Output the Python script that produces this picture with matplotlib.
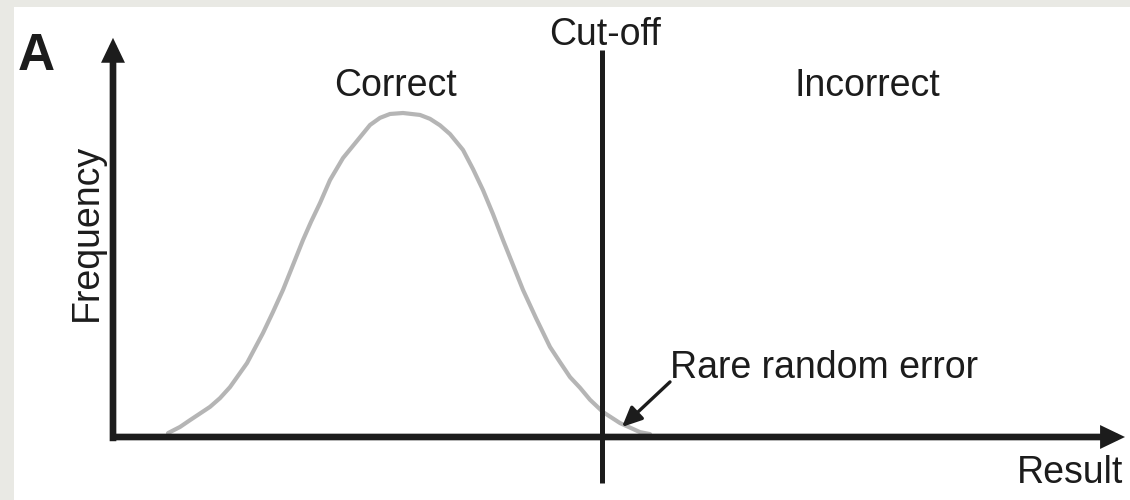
import matplotlib
matplotlib.use("Agg")
import matplotlib.pyplot as plt
from matplotlib.patches import Rectangle

plt.rcParams['font.family'] = ['Liberation Sans', 'DejaVu Sans']

# distribution of results (arbitrary units)
result = [0.55, 0.67, 0.77, 0.97, 1.07, 1.17, 1.34, 1.50, 1.60, 1.70, 1.80, 1.90, 1.98, 2.07,
          2.17, 2.30, 2.43, 2.57, 2.67, 2.77, 2.90, 3.07, 3.17, 3.27, 3.37, 3.50, 3.60, 3.70,
          3.80, 3.90, 4.00, 4.10, 4.23, 4.37, 4.47, 4.57, 4.67, 4.77, 4.90, 5.07, 5.27, 5.37]
frequency = [0.012, 0.031, 0.052, 0.093, 0.120, 0.154, 0.228, 0.321, 0.386, 0.454, 0.531, 0.608, 0.664, 0.722,
             0.793, 0.861, 0.910, 0.963, 0.985, 0.997, 1.0, 0.994, 0.982, 0.962, 0.935, 0.886, 0.827, 0.762,
             0.688, 0.608, 0.531, 0.454, 0.367, 0.278, 0.231, 0.185, 0.152, 0.115, 0.077, 0.043, 0.015, 0.009]
cutoff = 4.89
x_max = 10.16
y_max = 1.247
error_tip = (5.09, 0.031)
error_tail = (5.57, 0.170)

ink = '#1c1c1c'

fig = plt.figure(figsize=(11.3, 5), dpi=100, facecolor='#e9e9e4')
fig.patches.append(Rectangle((14 / 1130, 0), 1, 1 - 7 / 500, transform=fig.transFigure,
                             facecolor='white', edgecolor='none', zorder=-10))
ax = fig.add_axes([0, 0, 1, 1])
ax.set_facecolor('none')
ax.axis('off')
ax.set_xlim(-1.13, 10.17)
ax.set_ylim(-63 / 324, 437 / 324)

# curve
ax.plot(result, frequency, color='#b5b5b5', lw=3.0, solid_joinstyle='round',
        solid_capstyle='round', zorder=2)

# axes with arrows
arrow_kw = dict(arrowstyle='-|>,head_length=10,head_width=4.8', color=ink, lw=4.8,
                shrinkA=0, shrinkB=0, mutation_scale=1, joinstyle='miter', capstyle='butt')
ax.annotate('', xy=(0, y_max - 0.015), xytext=(0, -0.013), arrowprops=arrow_kw, zorder=3)
ax.annotate('', xy=(x_max - 0.04, 0), xytext=(-0.03, 0), arrowprops=arrow_kw, zorder=3)

# cut-off line
ax.plot([cutoff, cutoff], [-0.142, 1.194], color=ink, lw=3.6, solid_capstyle='butt', zorder=3)

# rare random error arrow
ax.annotate('', xy=error_tip, xytext=error_tail,
            arrowprops=dict(arrowstyle='-|>,head_length=12,head_width=5.5', color=ink, lw=2.4,
                            shrinkA=0, shrinkB=0, mutation_scale=1), zorder=4)

fs = 27
ax.text(-0.95, 1.133, 'A', fontsize=37, fontweight='bold', color=ink, ha='left', va='baseline')
ax.text(cutoff + 0.03, 1.210, 'Cut-off', fontsize=fs, color=ink, ha='center', va='baseline')
ax.text(2.82, 1.052, 'Correct', fontsize=fs, color=ink, ha='center', va='baseline')
ax.text(7.54, 1.052, 'Incorrect', fontsize=fs, color=ink, ha='center', va='baseline')
ax.text(5.57, 0.182, 'Rare random error', fontsize=fs, color=ink, ha='left', va='baseline')
ax.text(10.10, -0.142, 'Result', fontsize=fs, color=ink, ha='right', va='baseline')
ax.text(-0.26, 0.632, 'Frequency', fontsize=fs, color=ink, ha='center', va='center', rotation=90)

fig.savefig('out.png', dpi=100, facecolor=fig.get_facecolor())
